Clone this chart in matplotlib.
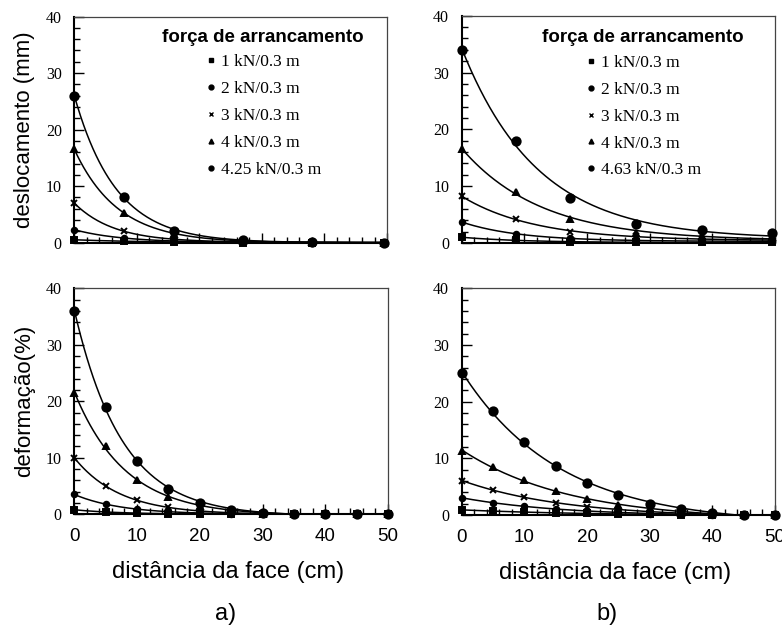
import numpy as np
import matplotlib
matplotlib.use("Agg")
import matplotlib.pyplot as plt
from matplotlib.lines import Line2D
from matplotlib.ticker import MultipleLocator

# carga aplicada em cada ensaio
forcas_a = ["1 kN/0.3 m", "2 kN/0.3 m", "3 kN/0.3 m", "4 kN/0.3 m", "4.25 kN/0.3 m"]
forcas_b = ["1 kN/0.3 m", "2 kN/0.3 m", "3 kN/0.3 m", "4 kN/0.3 m", "4.63 kN/0.3 m"]

# deslocamentos (mm) medidos nos tell-tales
x_desl_a = [0, 8, 16, 27, 38, 49.5]
desl_a = [
    [0.5, 0.3, 0.1, 0.0, 0.0, 0.0],
    [2.3, 0.8, 0.3, 0.1, 0.0, 0.0],
    [7.0, 2.0, 0.6, 0.2, 0.1, 0.0],
    [16.5, 5.3, 1.5, 0.3, 0.1, 0.0],
    [26.0, 8.0, 2.0, 0.5, 0.2, 0.0],
]
x_desl_b = [0, 8.7, 17.3, 27.9, 38.3, 49.5]
desl_b = [
    [1.0, 0.5, 0.2, 0.1, 0.1, 0.1],
    [3.7, 1.6, 0.8, 0.5, 0.3, 0.3],
    [8.2, 4.2, 2.0, 1.2, 0.7, 0.5],
    [16.5, 9.0, 4.3, 1.8, 1.2, 1.0],
    [34.0, 18.0, 8.0, 3.4, 2.2, 1.7],
]

# deformacoes (%) ao longo do reforco
x_def = [0, 5, 10, 15, 20, 25, 30, 35, 40, 45, 50]
def_a = [
    [0.8, 0.4, 0.2, 0.1, 0.1, 0.0, 0.0, 0.0, 0.0, 0.0, 0.0],
    [3.5, 1.8, 0.9, 0.5, 0.2, 0.1, 0.0, 0.0, 0.0, 0.0, 0.0],
    [10.0, 5.0, 2.5, 1.2, 0.6, 0.2, 0.1, 0.0, 0.0, 0.0, 0.0],
    [21.5, 12.0, 6.0, 3.0, 1.5, 0.5, 0.1, 0.0, 0.0, 0.0, 0.0],
    [36.0, 19.0, 9.5, 4.5, 2.0, 0.7, 0.2, 0.0, 0.0, 0.0, 0.0],
]
def_b = [
    [0.9, 0.7, 0.5, 0.4, 0.3, 0.2, 0.1, 0.0, 0.0, 0.0, 0.0],
    [3.0, 2.2, 1.6, 1.1, 0.7, 0.4, 0.2, 0.1, 0.0, 0.0, 0.0],
    [6.0, 4.5, 3.2, 2.2, 1.5, 0.9, 0.5, 0.2, 0.1, 0.0, 0.0],
    [11.3, 8.5, 6.2, 4.3, 2.9, 1.7, 0.9, 0.4, 0.2, 0.0, 0.0],
    [25.0, 18.3, 12.8, 8.7, 5.7, 3.5, 2.0, 1.0, 0.4, 0.0, 0.0],
]

marcadores = ["s", "o", "x", "^", "o"]
tamanhos = [4.5, 4, 5, 5, 6]

serif = "Liberation Serif"
sans = "Liberation Sans"


def ajuste_exp(x, y):
    # y = a*exp(-x/t) + c, t por busca simples e a, c por minimos quadrados
    x = np.asarray(x, float)
    y = np.asarray(y, float)
    melhor = None
    for t in np.linspace(2, 40, 400):
        A = np.column_stack([np.exp(-x / t), np.ones_like(x)])
        coef, *_ = np.linalg.lstsq(A, y, rcond=None)
        erro = np.sum((A @ coef - y) ** 2)
        if melhor is None or erro < melhor[0]:
            melhor = (erro, t, coef)
    _, t, (a, c) = melhor
    xs = np.linspace(x.min(), x.max(), 200)
    return xs, a * np.exp(-xs / t) + c


def desenha(ax, x, series, rotulos=None, leg_pos=None):
    for i, y in enumerate(series):
        xs, ys = ajuste_exp(x, y)
        ax.plot(xs, ys, color="black", lw=1.1, zorder=2)
        ax.plot(x, y, ls="none", marker=marcadores[i], ms=tamanhos[i],
                color="black", mew=1.4, zorder=3, clip_on=False)
    ax.set_xlim(0, 50)
    ax.set_ylim(0, 40)
    ax.xaxis.set_major_locator(MultipleLocator(10))
    ax.xaxis.set_minor_locator(MultipleLocator(2))
    ax.yaxis.set_major_locator(MultipleLocator(10))
    ax.yaxis.set_minor_locator(MultipleLocator(2))
    ax.tick_params(which="both", direction="in", top=False, right=False, width=1)
    ax.tick_params(which="major", length=7)
    ax.tick_params(which="minor", length=4)
    ax.tick_params(axis="y", pad=9)
    ax.tick_params(axis="x", pad=10)
    for lado in ["left", "bottom"]:
        ax.spines[lado].set_linewidth(1.5)
    for lado in ["top", "right"]:
        ax.spines[lado].set_linewidth(0.9)
        ax.spines[lado].set_color("#444444")
    for lbl in ax.get_yticklabels():
        lbl.set_fontfamily(serif)
        lbl.set_fontsize(11.5)
    for lbl in ax.get_xticklabels():
        lbl.set_fontfamily(sans)
        lbl.set_fontsize(13.5)
    if rotulos is not None:
        alcas = [Line2D([], [], ls="none", marker=marcadores[i], ms=3.5,
                        color="black", mew=1.0) for i in range(len(rotulos))]
        leg = ax.legend(alcas, rotulos, loc="upper right", bbox_to_anchor=leg_pos,
                        frameon=False, title="força de arrancamento",
                        prop={"family": serif, "size": 12.5},
                        handletextpad=0.2, handlelength=0.8, labelspacing=0.62,
                        borderaxespad=0, borderpad=0)
        leg.get_title().set_fontfamily(sans)
        leg.get_title().set_fontweight("bold")
        leg.get_title().set_fontsize(13.5)
        leg._legend_box.align = "center"
        leg._legend_box.sep = 6


fig = plt.figure(figsize=(7.82, 6.3), dpi=100)
ax1 = fig.add_axes([0.0950, 0.6148, 0.3999, 0.3590])
ax2 = fig.add_axes([0.5904, 0.6143, 0.4006, 0.3608])
ax3 = fig.add_axes([0.0950, 0.1837, 0.4012, 0.3587])
ax4 = fig.add_axes([0.5904, 0.1825, 0.4006, 0.3599])

desenha(ax1, x_desl_a, desl_a, forcas_a, leg_pos=(0.925, 0.945))
desenha(ax2, x_desl_b, desl_b, forcas_b, leg_pos=(0.9, 0.94))
desenha(ax3, x_def, def_a)
desenha(ax4, x_def, def_b)

for ax in (ax1, ax2):
    ax.tick_params(labelbottom=False)

ax1.set_ylabel("deslocamento (mm)", fontfamily=sans, fontsize=16)
ax3.set_ylabel("deformação(%)", fontfamily=sans, fontsize=16)
for ax in (ax1, ax3):
    ax.yaxis.set_label_coords(-0.125, 0.5)
for ax in (ax3, ax4):
    ax.set_xlabel("distância da face (cm)", fontfamily=sans, fontsize=17,
                  va="center")
    ax.xaxis.set_label_coords(0.49, -0.255)

fig.text(0.288, 0.025, "a)", fontfamily=sans, fontsize=17, ha="center", va="center")
fig.text(0.776, 0.025, "b)", fontfamily=sans, fontsize=17, ha="center", va="center")

fig.savefig("out.png", dpi=100)
